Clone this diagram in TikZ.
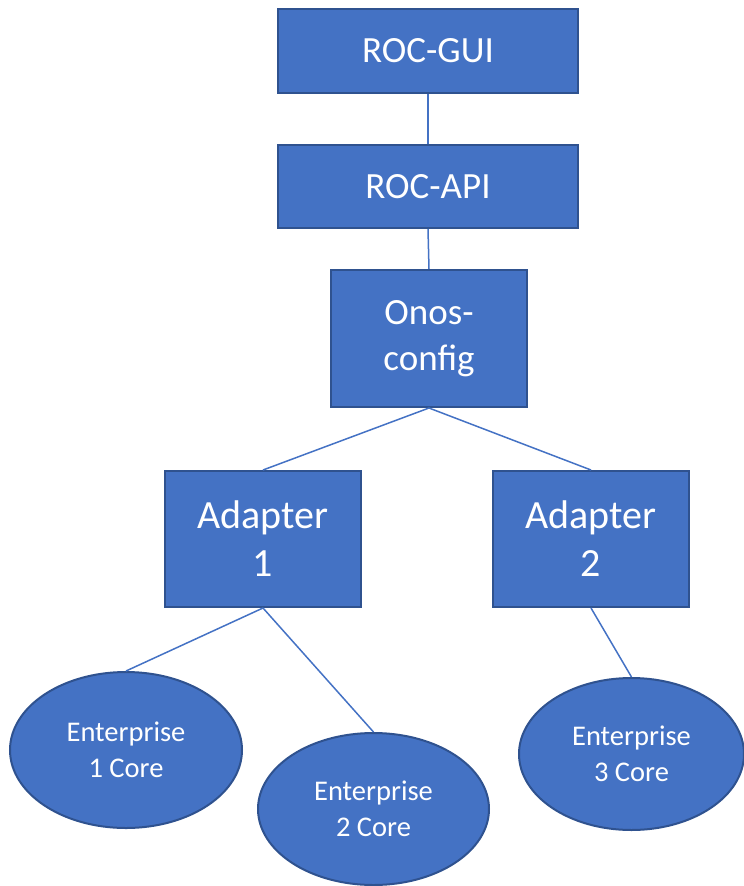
\documentclass[tikz,border=0pt]{standalone}
\usepackage{fontspec}
\setmainfont{Carlito}
\usetikzlibrary{shapes.geometric}
\definecolor{offblue}{HTML}{4472C4}
\definecolor{offedge}{HTML}{2F528F}
\begin{document}
\begin{tikzpicture}[x=1pt,y=-1pt,
  boxnode/.style={draw=offedge,line width=2pt,fill=offblue,text=white,
    align=center,inner sep=0pt,font=\fontsize{37}{46}\selectfont},
  adbox/.style={boxnode,font=\fontsize{40}{48}\selectfont},
  coreell/.style={ellipse,draw=offedge,line width=2pt,fill=offblue,text=white,
    align=center,inner sep=0pt,font=\fontsize{28.5}{36}\selectfont},
  link/.style={draw=offblue,line width=1.5pt}]
\useasboundingbox (0,0) rectangle (744,886);
\node[boxnode,minimum width=300pt,minimum height=84pt] (gui) at (428,51) {ROC-GUI};
\node[boxnode,minimum width=300pt,minimum height=83pt] (api) at (428,186.5) {ROC-API};
\node[boxnode,minimum width=196pt,minimum height=137pt] (onos) at (429,338.5) {Onos-\\config};
\node[adbox,minimum width=196pt,minimum height=136pt] (ad1) at (263,539) {Adapter\\1};
\node[adbox,minimum width=196pt,minimum height=136pt] (ad2) at (591,539) {Adapter\\2};
\node[coreell,minimum width=232pt,minimum height=156pt] (e1) at (126,750) {Enterprise\\1 Core};
\node[coreell,minimum width=231pt,minimum height=152pt] (e2) at (373.5,809) {Enterprise\\2 Core};
\node[coreell,minimum width=225pt,minimum height=152pt] (e3) at (631.5,754) {Enterprise\\3 Core};
\draw[link] (gui.south) -- (api.north);
\draw[link] (api.south) -- (onos.north);
\draw[link] (onos.south) -- (ad1.north);
\draw[link] (onos.south) -- (ad2.north);
\draw[link] (ad1.south) -- (e1.north);
\draw[link] (ad1.south) -- (e2.north);
\draw[link] (ad2.south) -- (e3.north);
\end{tikzpicture}
\end{document}
